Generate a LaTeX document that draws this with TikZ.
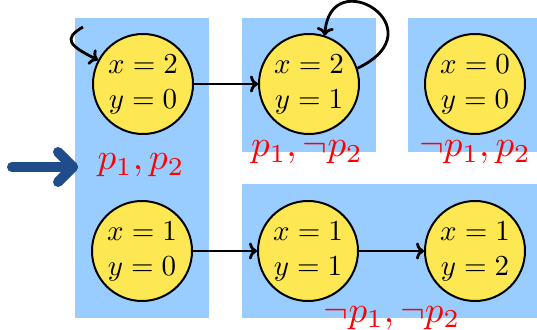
\documentclass[tikz,border=0pt]{standalone}
\usepackage{graphicx}
\usetikzlibrary{arrows.meta}
\definecolor{boxblue}{RGB}{153,204,255}
\definecolor{statey}{RGB}{253,232,84}
\definecolor{initblue}{RGB}{31,76,138}
\definecolor{labred}{RGB}{255,0,0}
\newcommand{\sttxt}[2]{\scalebox{2.9}{\begin{tabular}{@{}c@{}}$#1$\\$#2$\end{tabular}}}
\newcommand{\labtxt}[1]{\scalebox{3.7}{$#1$}}
\tikzset{
  region/.style={fill=boxblue, draw=none},
  state/.style={circle, draw=black, line width=2pt, fill=statey, minimum size=100pt, inner sep=0pt, align=center},
  lab/.style={text=labred, anchor=base, inner sep=0pt},
  trans/.style={line width=2.8pt, -{To[length=8pt,width=17pt]}},
  initarrow/.style={draw=initblue, line width=10pt, line cap=round, line join=round}
}
\begin{document}
\begin{tikzpicture}[x=1pt,y=1pt]
\useasboundingbox (0,0) rectangle (537,329);
% regions
\fill[region] (75,11) rectangle (209,311);
\fill[region] (242,177) rectangle (376,311);
\fill[region] (408,177) rectangle (537,311);
\fill[region] (242,11) rectangle (537,145);
% states
\node[state] (A) at (143,245) {\sttxt{x=2}{y=0}};
\node[state] (B) at (309,245) {\sttxt{x=2}{y=1}};
\node[state] (C) at (475,245) {\sttxt{x=0}{y=0}};
\node[state] (D) at (142,78) {\sttxt{x=1}{y=0}};
\node[state] (E) at (308,78) {\sttxt{x=1}{y=1}};
\node[state] (F) at (475,78) {\sttxt{x=1}{y=2}};
% labels
\node[lab] (l1) at (141,159) {\labtxt{p_1,p_2}};
\node[lab] (l2) at (307,172) {\labtxt{p_1,\neg p_2}};
\node[lab] (l3) at (475,172) {\labtxt{\neg p_1,p_2}};
\node[lab] (l4) at (392,7) {\labtxt{\neg p_1,\neg p_2}};
% transitions
\draw[trans] (A) -- (B);
\draw[trans] (D) -- (E);
\draw[trans] (E) -- (F);
\coordinate (la) at (83,302);
\draw[trans] (la) .. controls (62,290) and (70,283) .. (A.152);
\draw[trans] (B.18) .. controls (440,300) and (330,368) .. (B.72);
% initial arrow
\coordinate (i0) at (12,162);
\coordinate (i1) at (73,162);
\coordinate (h1) at (58,177);
\coordinate (h2) at (58,147);
\draw[initarrow] (i0) -- (i1);
\draw[initarrow] (h1) -- (i1) -- (h2);
\end{tikzpicture}
\end{document}
